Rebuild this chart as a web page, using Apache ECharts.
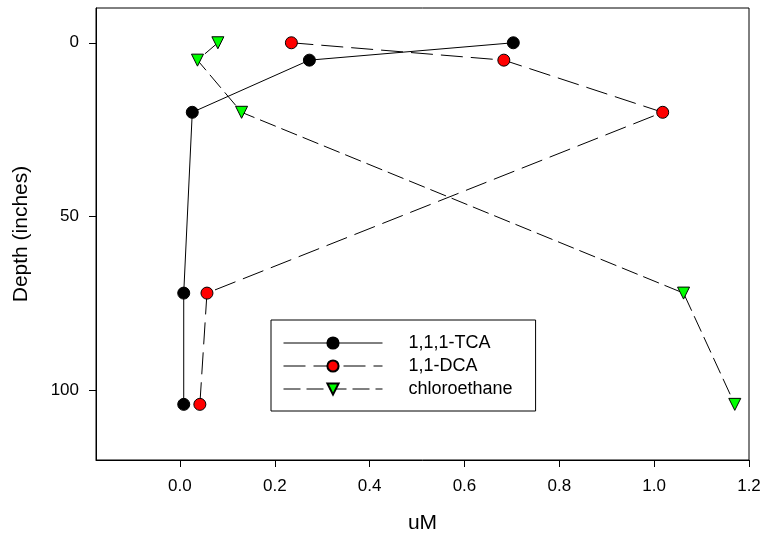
<!DOCTYPE html>
<html>
<head>
<meta charset="utf-8">
<script src="https://cdn.jsdelivr.net/npm/echarts@6/dist/echarts.min.js"></script>
<style>
html,body{margin:0;padding:0;background:#fff;}
#c{width:763px;height:535px;}
</style>
</head>
<body>
<div id="c"></div>
<script>
const depth = [0, 5, 20, 72, 104];
const tca = [0.703, 0.273, 0.026, 0.008, 0.008];
const dca = [0.235, 0.683, 1.018, 0.057, 0.042];
const chloroethane = [0.080, 0.037, 0.130, 1.062, 1.170];
const xTicks = [0, 0.2, 0.4, 0.6, 0.8, 1.0, 1.2];
const yTicks = [0, 50, 100];
const seriesNames = ['1,1,1-TCA', '1,1-DCA', 'chloroethane'];

const pair = (xs) => xs.map((v, i) => [v, depth[i]]);
const font = 'Liberation Sans, Arial, sans-serif';

const chart = echarts.init(document.getElementById('c'), null, {renderer: 'canvas'});
chart.setOption({
  animation: false,
  backgroundColor: '#fff',
  grid: {left: 96, right: 14, top: 8, bottom: 75, containLabel: false, outerBoundsMode: 'none',
    show: true, borderColor: '#000', borderWidth: 1, backgroundColor: 'transparent'},
  xAxis: {
    type: 'value', min: -0.177, max: 1.2,
    name: 'uM', nameLocation: 'middle', nameGap: 53,
    nameTextStyle: {fontFamily: font, fontSize: 21, color: '#000'},
    axisLine: {show: true, onZero: false, lineStyle: {color: '#000', width: 1}},
    axisTick: {show: true, inside: false, length: 7, customValues: xTicks, lineStyle: {color: '#000'}},
    axisLabel: {customValues: xTicks, margin: 18, fontFamily: font, fontSize: 17, color: '#000',
      formatter: v => v.toFixed(1)},
    splitLine: {show: false}
  },
  yAxis: {
    type: 'value', min: -10, max: 120, inverse: true,
    name: 'Depth (inches)', nameLocation: 'middle', nameGap: 64, nameRotate: 90,
    nameTextStyle: {fontFamily: font, fontSize: 21, color: '#000'},
    axisLine: {show: true, onZero: false, lineStyle: {color: '#000', width: 1}},
    axisTick: {show: true, inside: false, length: 7, customValues: yTicks, lineStyle: {color: '#000'}},
    axisLabel: {customValues: yTicks, margin: 17, fontFamily: font, fontSize: 17, color: '#000'},
    splitLine: {show: false}
  },
  legend: {
    orient: 'vertical', left: 271, top: 320,
    data: seriesNames,
    borderColor: '#000', borderWidth: 1, borderRadius: 0,
    padding: [14, 23, 13, 12],
    itemWidth: 99, itemHeight: 14, itemGap: 5,
    lineStyle: {width: 1},
    textStyle: {fontFamily: font, fontSize: 18, lineHeight: 16, color: '#000', padding: [0, 0, 0, 21]}
  },
  series: [
    {
      name: seriesNames[0], type: 'line', data: pair(tca),
      symbol: 'circle', symbolSize: 12,
      itemStyle: {color: '#000', borderColor: '#000', borderWidth: 1},
      lineStyle: {color: '#000', width: 1, type: 'solid'}
    },
    {
      name: seriesNames[1], type: 'line', data: pair(dca),
      symbol: 'circle', symbolSize: 12,
      itemStyle: {color: '#ff0000', borderColor: '#000', borderWidth: 1},
      lineStyle: {color: '#000', width: 1, type: [22, 8]}
    },
    {
      name: seriesNames[2], type: 'line', data: pair(chloroethane),
      symbol: 'triangle', symbolSize: 12, symbolRotate: 180,
      itemStyle: {color: '#00ff00', borderColor: '#000', borderWidth: 1},
      lineStyle: {color: '#000', width: 1, type: [17, 6]}
    }
  ]
});
</script>
</body>
</html>
